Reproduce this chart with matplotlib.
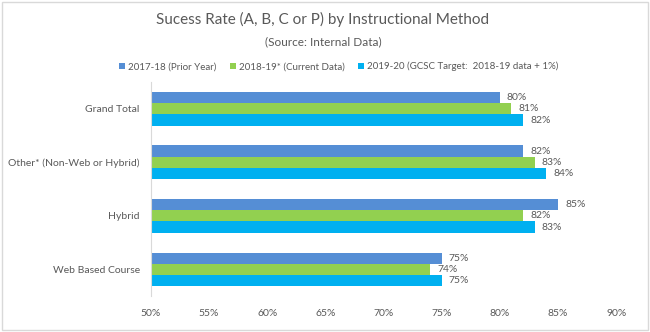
import numpy as np
import matplotlib.pyplot as plt
from matplotlib.patches import Rectangle
from matplotlib.ticker import FuncFormatter

plt.rcParams['font.family'] = ['Lato', 'DejaVu Sans']

categories = ["Grand Total", "Other* (Non-Web or Hybrid)", "Hybrid", "Web Based Course"]
series_names = ["2017-18 (Prior Year)", "2018-19* (Current Data)",
                "2019-20 (GCSC Target:  2018-19 data + 1%)"]
prior = [80, 82, 85, 75]
current = [81, 83, 82, 74]
target = [82, 84, 83, 75]
colors = ["#558ED5", "#92D050", "#00B0F0"]
text_col = "#595959"

fig = plt.figure(figsize=(6.5, 3.32), dpi=100)
ax = fig.add_axes([0.232, 0.108, 0.716, 0.645])

n = len(categories)
y = np.arange(n)[::-1]  # first category at top
h = 0.21
for i, (vals, col, name) in enumerate(zip([prior, current, target], colors, series_names)):
    pos = y + h - i * h
    ax.barh(pos, vals, height=h, color=col, label=name, left=0)
    for p, v in zip(pos, vals):
        ax.text(v + 0.6, p, f"{v}%", va='center', ha='left', fontsize=7.5, color=text_col)

ax.set_xlim(50, 90)
ax.set_ylim(-0.5, n - 0.5)
ax.set_xticks(np.arange(50, 91, 5))
ax.xaxis.set_major_formatter(FuncFormatter(lambda v, _: f"{v:.0f}%"))
ax.set_yticks(y)
ax.set_yticklabels(categories)
ax.tick_params(axis='both', length=0, labelsize=7.5, labelcolor=text_col)
ax.tick_params(axis='y', pad=8)
ax.tick_params(axis='x', pad=9)
for s in ['top', 'right', 'bottom']:
    ax.spines[s].set_visible(False)
ax.spines['left'].set_color("#D9D9D9")

fig.text(0.497, 0.94, "Sucess Rate (A, B, C or P) by Instructional Method",
         ha='center', va='center', fontsize=11, color=text_col)
fig.text(0.497, 0.873, "(Source: Internal Data)", ha='center', va='center',
         fontsize=8.5, color=text_col)

leg = fig.legend(loc='center', bbox_to_anchor=(0.521, 0.80), ncol=3, frameon=False,
                 fontsize=7, handlelength=0.6, handleheight=0.6, handletextpad=0.3,
                 columnspacing=1.4, labelcolor=text_col)

fig.patches.append(Rectangle((0.003, 0.005), 0.994, 0.99, transform=fig.transFigure,
                             fill=False, edgecolor="#D9D9D9", linewidth=1))

fig.savefig("out.png", dpi=100, facecolor='white')
